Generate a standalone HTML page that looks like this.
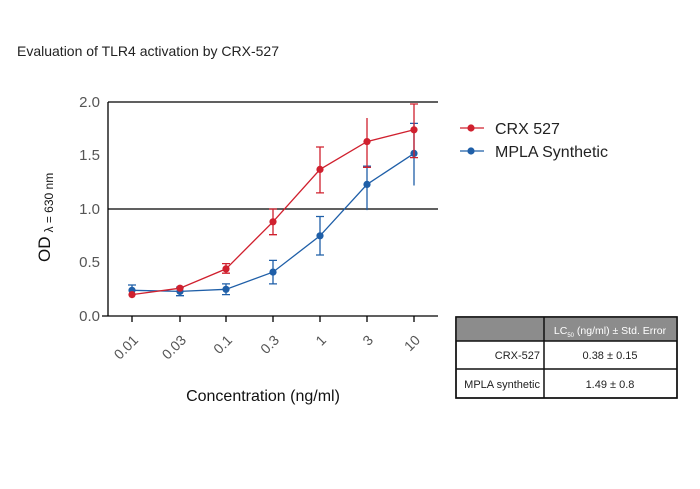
<!DOCTYPE html>
<html><head><style>
body{margin:0;background:#fff;width:700px;height:484px;overflow:hidden;font-family:"Liberation Sans",sans-serif}
</style></head><body>
<svg width="700" height="484" xmlns="http://www.w3.org/2000/svg" font-family="Liberation Sans, sans-serif">
<text x="17" y="56" font-size="14" fill="#222">Evaluation of TLR4 activation by CRX-527</text>
<line x1="108" y1="102" x2="438" y2="102" stroke="#000" stroke-width="1.3"/>
<line x1="108" y1="209" x2="438" y2="209" stroke="#000" stroke-width="1.3"/>
<line x1="102" y1="316" x2="438" y2="316" stroke="#000" stroke-width="1.3"/>
<line x1="108" y1="102" x2="108" y2="316" stroke="#000" stroke-width="1.3"/>
<g stroke="#000" stroke-width="1.3">
<line x1="132" y1="316" x2="132" y2="322"/><line x1="180" y1="316" x2="180" y2="322"/><line x1="226" y1="316" x2="226" y2="322"/><line x1="273" y1="316" x2="273" y2="322"/><line x1="320" y1="316" x2="320" y2="322"/><line x1="367" y1="316" x2="367" y2="322"/><line x1="414" y1="316" x2="414" y2="322"/>
</g>
<g font-size="15" fill="#555" text-anchor="end">
<text x="100" y="107">2.0</text><text x="100" y="160">1.5</text><text x="100" y="214">1.0</text><text x="100" y="267">0.5</text><text x="100" y="321">0.0</text>
</g>
<g font-size="14" fill="#555" text-anchor="end">
<text transform="translate(139,341) rotate(-45)">0.01</text>
<text transform="translate(187,341) rotate(-45)">0.03</text>
<text transform="translate(233,341) rotate(-45)">0.1</text>
<text transform="translate(280,341) rotate(-45)">0.3</text>
<text transform="translate(327,341) rotate(-45)">1</text>
<text transform="translate(374,341) rotate(-45)">3</text>
<text transform="translate(421,341) rotate(-45)">10</text>
</g>
<text x="263" y="401" font-size="16" text-anchor="middle" fill="#111">Concentration (ng/ml)</text>
<text transform="translate(50,262) rotate(-90)" font-size="17" fill="#111">OD<tspan font-size="12" dx="4" dy="3">λ = 630 nm</tspan></text>
<g stroke="#1f5fa8" stroke-width="1.3" fill="none">
<polyline points="132,290.3 180,291.4 226,289.3 273,272.1 320,235.8 367,184.4 414,153.4"/>
<path d="M132,294.6V285 M128,285h8 M180,295.7V287.1 M176,295.7h8M176,287.1h8 M226,294.6V283.9 M222,294.6h8M222,283.9h8 M273,283.9V260.4 M269,283.9h8M269,260.4h8 M320,255V216.5 M316,255h8M316,216.5h8 M367,210.1V166.2 M363,166.2h8 M414,185.5V123.4 M410,123.4h8"/>
</g>
<g fill="#1f5fa8">
<circle cx="132" cy="290.3" r="3.6"/><circle cx="180" cy="291.4" r="3.6"/><circle cx="226" cy="289.3" r="3.6"/><circle cx="273" cy="272.1" r="3.6"/><circle cx="320" cy="235.8" r="3.6"/><circle cx="367" cy="184.4" r="3.6"/><circle cx="414" cy="153.4" r="3.6"/>
</g>
<g stroke="#d0202e" stroke-width="1.3" fill="none">
<polyline points="132,294.6 180,288.2 226,268.9 273,221.8 320,169.4 367,141.6 414,129.8"/>
<path d="M226,273.2V263.6 M222,273.2h8M222,263.6h8 M273,234.7V209 M269,234.7h8M269,209h8 M320,192.9V147 M316,192.9h8M316,147h8 M367,167.3V118 M363,167.3h8 M414,157.6V104 M410,157.6h8M410,104h8"/>
</g>
<g fill="#d0202e">
<circle cx="132" cy="294.6" r="3.6"/><circle cx="180" cy="288.2" r="3.6"/><circle cx="226" cy="268.9" r="3.6"/><circle cx="273" cy="221.8" r="3.6"/><circle cx="320" cy="169.4" r="3.6"/><circle cx="367" cy="141.6" r="3.6"/><circle cx="414" cy="129.8" r="3.6"/>
</g>
<line x1="460" y1="128" x2="484" y2="128" stroke="#d0202e" stroke-width="1.3"/><circle cx="471" cy="128" r="3.6" fill="#d0202e"/>
<line x1="460" y1="151" x2="484" y2="151" stroke="#1f5fa8" stroke-width="1.3"/><circle cx="471" cy="151" r="3.6" fill="#1f5fa8"/>
<text x="495" y="134" font-size="16" fill="#222">CRX 527</text>
<text x="495" y="157" font-size="16" fill="#222">MPLA Synthetic</text>
<rect x="456" y="317" width="221" height="81" fill="#fff" stroke="#111" stroke-width="1.5"/>
<rect x="456" y="317" width="221" height="24" fill="#8c8c8c"/>
<line x1="456" y1="341" x2="677" y2="341" stroke="#111" stroke-width="1.5"/>
<line x1="456" y1="369" x2="677" y2="369" stroke="#111" stroke-width="1.5"/>
<line x1="544" y1="317" x2="544" y2="398" stroke="#111" stroke-width="1.5"/>
<rect x="456" y="317" width="221" height="81" fill="none" stroke="#111" stroke-width="1.5"/>
<text x="610" y="334" font-size="10.5" fill="#fff" text-anchor="middle">LC<tspan font-size="6" dy="3">50</tspan><tspan dy="-3"> (ng/ml) ± Std. Error</tspan></text>
<text x="540" y="359" font-size="11" fill="#222" text-anchor="end">CRX-527</text>
<text x="610" y="359" font-size="11" fill="#222" text-anchor="middle">0.38 ± 0.15</text>
<text x="540" y="388" font-size="11" fill="#222" text-anchor="end">MPLA synthetic</text>
<text x="610" y="388" font-size="11" fill="#222" text-anchor="middle">1.49 ± 0.8</text>
</svg>
</body></html>
